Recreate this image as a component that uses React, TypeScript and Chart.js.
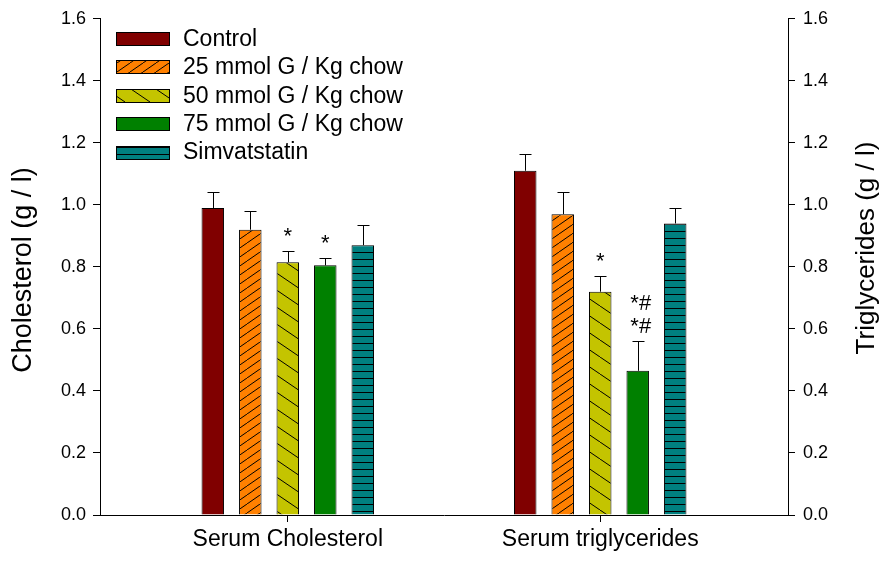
import React, { useEffect, useRef } from 'react';
import { Chart, registerables } from 'chart.js';

Chart.register(...registerables);

const FONT = "'Liberation Sans', Arial, sans-serif";

const categories = ['Serum Cholesterol', 'Serum triglycerides'];
const seriesNames = ['Control', '25 mmol G / Kg chow', '50 mmol G / Kg chow', '75 mmol G / Kg chow', 'Simvatstatin'];

const control = [0.99, 1.11];
const g25 = [0.92, 0.97];
const g50 = [0.815, 0.72];
const g75 = [0.805, 0.465];
const simva = [0.87, 0.94];

const controlErr = [0.05, 0.055];
const g25Err = [0.06, 0.07];
const g50Err = [0.035, 0.05];
const g75Err = [0.025, 0.095];
const simvaErr = [0.065, 0.05];

const controlMarks = ['', ''];
const g25Marks = ['', ''];
const g50Marks = ['*', '*'];
const g75Marks = ['*', '*#\n*#'];
const simvaMarks = ['', ''];

const yTicks = [0, 0.2, 0.4, 0.6, 0.8, 1.0, 1.2, 1.4, 1.6];

const colors = ['#800000', '#FF8000', '#C4C400', '#008000', '#008080'];
const hatch = ['none', 'fwd', 'back', 'none', 'horiz'];

function makePattern(kind: string, color: string): any {
  if (kind === 'none') return color;
  const c = document.createElement('canvas');
  let w = 8, h = 8;
  if (kind === 'fwd') { w = 13; h = 9; }
  if (kind === 'back') { w = 25; h = 17; }
  if (kind === 'horiz') { w = 4; h = 7; }
  c.width = w; c.height = h;
  const ctx = c.getContext('2d')!;
  ctx.fillStyle = color;
  ctx.fillRect(0, 0, w, h);
  ctx.strokeStyle = '#000';
  ctx.lineWidth = 1;
  ctx.beginPath();
  if (kind === 'fwd') {
    for (const dx of [-w, 0, w]) {
      ctx.moveTo(dx, h);
      ctx.lineTo(dx + w, 0);
    }
  } else if (kind === 'back') {
    for (const dx of [-w, 0, w]) {
      ctx.moveTo(dx, 0);
      ctx.lineTo(dx + w, h);
    }
  } else if (kind === 'horiz') {
    ctx.moveTo(0, 0.5);
    ctx.lineTo(w, 0.5);
  }
  ctx.stroke();
  return ctx.createPattern(c, 'repeat');
}

export default function App() {
  const ref = useRef<HTMLCanvasElement>(null);

  useEffect(() => {
    const canvas = ref.current!;
    const values = [control, g25, g50, g75, simva];
    const errs = [controlErr, g25Err, g50Err, g75Err, simvaErr];
    const marks = [controlMarks, g25Marks, g50Marks, g75Marks, simvaMarks];

    const datasets = seriesNames.map((name, i) => ({
      label: name,
      data: values[i].map((v, j) => ({ x: j, y: v })),
      backgroundColor: makePattern(hatch[i], colors[i]),
      borderColor: '#000',
      borderWidth: 1,
      categoryPercentage: 0.6,
      barPercentage: 0.6,
      yAxisID: 'y',
    }));

    const overlay = {
      id: 'overlay',
      afterDatasetsDraw(chart: any) {
        const ctx = chart.ctx;
        const ys = chart.scales.y;
        ctx.save();
        ctx.strokeStyle = '#000';
        ctx.lineWidth = 1;
        ctx.fillStyle = '#000';
        ctx.font = `22px ${FONT}`;
        ctx.textAlign = 'center';
        ctx.textBaseline = 'alphabetic';
        chart.data.datasets.forEach((ds: any, i: number) => {
          const meta = chart.getDatasetMeta(i);
          meta.data.forEach((el: any, j: number) => {
            const v = values[i][j];
            const top = ys.getPixelForValue(v + errs[i][j]);
            const x = Math.round(el.x) + 0.5;
            ctx.beginPath();
            ctx.moveTo(x, el.y);
            ctx.lineTo(x, Math.round(top) + 0.5);
            ctx.moveTo(x - 6, Math.round(top) + 0.5);
            ctx.lineTo(x + 6, Math.round(top) + 0.5);
            ctx.stroke();
            const m = marks[i][j];
            if (m) {
              const lines = m.split('\n');
              lines.forEach((ln: string, k: number) => {
                const base = top - 8 - (lines.length - 1 - k) * 23;
                ctx.fillText(ln, el.x + (ln.length > 1 ? 3 : 0), base);
              });
            }
          });
        });
        ctx.restore();
      },
      afterDraw(chart: any) {
        const ctx = chart.ctx;
        ctx.save();
        // legend
        ctx.font = `23px ${FONT}`;
        ctx.textBaseline = 'middle';
        ctx.textAlign = 'left';
        chart.data.datasets.forEach((ds: any, i: number) => {
          const cy = 38.5 + i * 28.4;
          const y0 = Math.round(cy - 6.5) + 0.5;
          ctx.fillStyle = ds.backgroundColor;
          ctx.fillRect(116.5, y0, 53, 13);
          ctx.strokeStyle = '#000';
          ctx.lineWidth = 1;
          ctx.strokeRect(116.5, y0, 53, 13);
          ctx.fillStyle = '#000';
          ctx.fillText(ds.label, 183, cy + 1);
        });
        // axis titles
        ctx.textAlign = 'center';
        ctx.textBaseline = 'middle';
        ctx.font = `27px ${FONT}`;
        ctx.save();
        ctx.translate(24, 270);
        ctx.rotate(-Math.PI / 2);
        ctx.fillText('Cholesterol (g / l)', 0, 0);
        ctx.restore();
        ctx.font = `26px ${FONT}`;
        ctx.save();
        ctx.translate(867, 248);
        ctx.rotate(-Math.PI / 2);
        ctx.fillText('Triglycerides (g / l)', 0, 0);
        ctx.restore();
        ctx.restore();
      },
    };

    const yAxis = (pos: string, width: number, pad: number) => ({
      type: 'linear',
      position: pos,
      min: 0,
      max: 1.6,
      afterBuildTicks: (s: any) => { s.ticks = yTicks.map((v) => ({ value: v })); },
      afterFit: (s: any) => { s.width = width; },
      ticks: {
        callback: (v: any) => Number(v).toFixed(1),
        font: { family: FONT, size: 18 },
        color: '#000',
        padding: pad,
      },
      grid: { drawOnChartArea: false, drawTicks: true, tickLength: 7, color: '#000', tickWidth: 1, offset: false },
      border: { display: true, color: '#000', width: 1 },
    });

    const chart = new Chart(canvas, {
      type: 'bar',
      data: { datasets: datasets as any },
      options: {
        responsive: false,
        animation: false,
        layout: { padding: { top: 15, left: 0, right: 0, bottom: 0 } },
        plugins: { legend: { display: false }, tooltip: { enabled: false } },
        scales: {
          x: {
            type: 'linear',
            position: 'bottom',
            min: -0.601,
            max: 1.601,
            offset: false,
            afterBuildTicks: (s: any) => { s.ticks = categories.map((_, i) => ({ value: i })); },
            afterFit: (s: any) => { s.height = 50; },
            ticks: {
              callback: (v: any) => categories[Math.round(Number(v))] ?? '',
              font: { family: FONT, size: 23 },
              color: '#000',
              padding: 4,
              maxRotation: 0,
              autoSkip: false,
            },
            grid: { drawOnChartArea: false, drawTicks: true, tickLength: 7, color: '#000', offset: false },
            border: { display: true, color: '#000', width: 1 },
          },
          y: yAxis('left', 100, 7) as any,
          y2: yAxis('right', 97, 8) as any,
        },
      } as any,
      plugins: [overlay],
    });
    return () => chart.destroy();
  }, []);

  return (
    <div style={{ position: 'absolute', left: 0, top: 0, width: 885, height: 565, background: '#fff' }}>
      <canvas ref={ref} width={885} height={565} style={{ display: 'block' }} />
    </div>
  );
}
